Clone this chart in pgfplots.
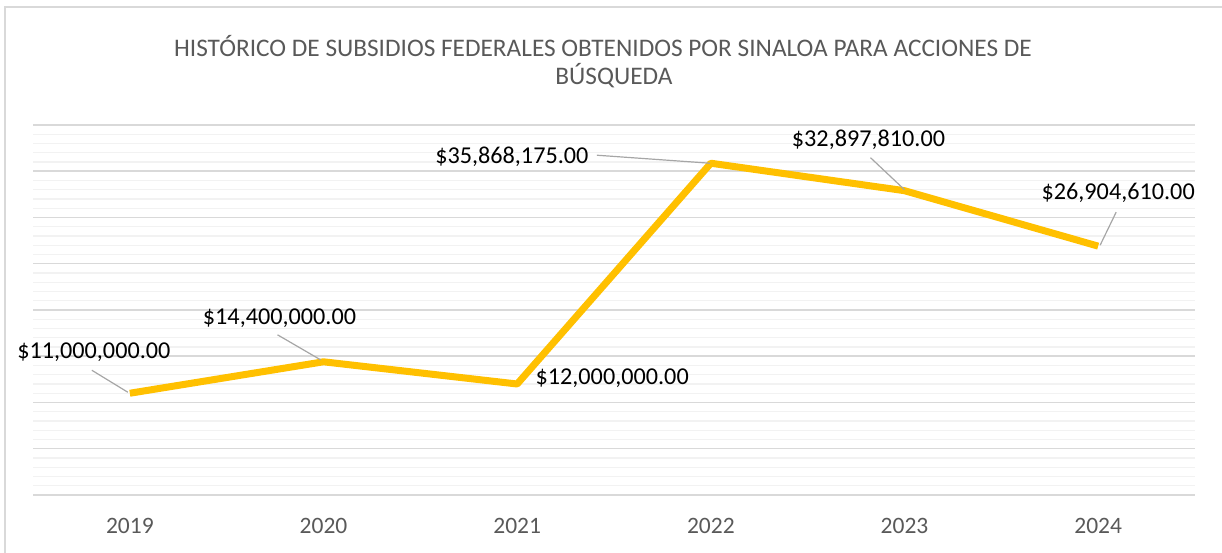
\documentclass[border=0pt]{standalone}
\usepackage{pgfplots}
\pgfplotsset{compat=1.18}
\usepackage{fontspec}
\setmainfont{Carlito}
\definecolor{titlegray}{HTML}{595959}
\definecolor{majgrid}{HTML}{D9D9D9}
\definecolor{mingrid}{HTML}{F2F2F2}
\definecolor{leader}{HTML}{A6A6A6}
\definecolor{gold}{HTML}{FFC000}
\begin{document}
\begin{tikzpicture}[x=1pt,y=1pt]
\useasboundingbox (0,0) rectangle (1222,553);
\draw[majgrid, line width=1.5pt] (5,0) -- (5,546) -- (1222,546);
\node[text=titlegray, font=\fontsize{25.3}{30}\selectfont] at (603,507)
  {HISTÓRICO DE SUBSIDIOS FEDERALES OBTENIDOS POR SINALOA PARA ACCIONES DE};
\node[text=titlegray, font=\fontsize{25.3}{30}\selectfont] at (614,477) {BÚSQUEDA};
\begin{axis}[
  at={(33pt,58pt)}, anchor=south west,
  scale only axis, width=1162pt, height=370pt,
  xmin=-0.5, xmax=5.5, ymin=0, ymax=40000000,
  clip=false,
  axis line style={draw=none},
  xtick={0,1,2,3,4,5},
  xticklabels={2019,2020,2021,2022,2023,2024},
  xticklabel style={anchor=center, yshift=-31pt, text=titlegray, font=\fontsize{23.5}{26}\selectfont},
  ytick={0,5000000,10000000,15000000,20000000,25000000,30000000,35000000,40000000},
  yticklabels={},
  scaled y ticks=false,
  minor y tick num=4,
  ymajorgrids, yminorgrids,
  major grid style={majgrid, line width=1.5pt},
  minor grid style={mingrid, line width=1.3pt},
  major tick length=0pt, minor tick length=0pt,
]
\addplot[gold, line width=7pt, line join=round] coordinates {
  (0,11000000) (1,14400000) (2,12000000) (3,35868175) (4,32897810) (5,26904610)
};
\begin{scope}[every node/.style={font=\fontsize{24.2}{28}\selectfont, text=black}]
\node at (axis cs:0,11000000) [xshift=-36pt, yshift=41pt] {\$11,000,000.00};
\draw[leader, line width=1.2pt] ([shift={(-38pt,23pt)}]axis cs:0,11000000) -- ([shift={(-2pt,1pt)}]axis cs:0,11000000);
\node at (axis cs:1,14400000) [xshift=-44pt, yshift=44pt] {\$14,400,000.00};
\draw[leader, line width=1.2pt] ([shift={(-46pt,27pt)}]axis cs:1,14400000) -- ([shift={(-3pt,2pt)}]axis cs:1,14400000);
\node at (axis cs:2,12000000) [xshift=95pt, yshift=6pt] {\$12,000,000.00};
\node at (axis cs:3,35868175) [xshift=-199pt, yshift=6pt] {\$35,868,175.00};
\draw[leader, line width=1.2pt] ([shift={(-114pt,8pt)}]axis cs:3,35868175) -- ([shift={(-1pt,0pt)}]axis cs:3,35868175);
\node at (axis cs:4,32897810) [xshift=-36pt, yshift=51pt] {\$32,897,810.00};
\draw[leader, line width=1.2pt] ([shift={(-34pt,33pt)}]axis cs:4,32897810) -- ([shift={(0pt,1pt)}]axis cs:4,32897810);
\node at (axis cs:5,26904610) [xshift=20pt, yshift=53pt] {\$26,904,610.00};
\draw[leader, line width=1.2pt] ([shift={(18pt,34pt)}]axis cs:5,26904610) -- ([shift={(2pt,1pt)}]axis cs:5,26904610);
\end{scope}
\end{axis}
\end{tikzpicture}
\end{document}
